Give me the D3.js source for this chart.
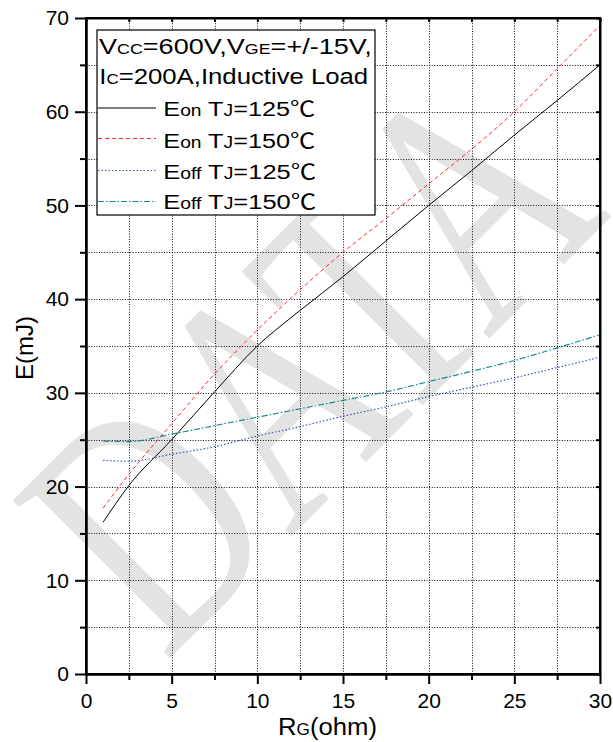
<!DOCTYPE html>
<html>
<head>
<meta charset="utf-8">
<script src="https://cdn.jsdelivr.net/npm/d3@7"></script>
<style>
  html, body { margin: 0; padding: 0; background: #fff; }
  svg { display: block; }
  text { font-family: Arial, "Liberation Sans", "DejaVu Sans", sans-serif; }
</style>
</head>
<body>
<svg id="chart" width="613" height="742"></svg>
<script>
// ---- data ----
const rg = [1, 2.5, 5, 7.5, 10, 12.5, 15, 17.5, 20, 22.5, 25, 27.5, 30];
const eon125 = [16.2, 20.1, 25.0, 30.1, 35.0, 38.8, 42.4, 46.2, 50.0, 53.7, 57.5, 61.2, 65.0];
const eon150 = [17.7, 21.3, 26.7, 32.0, 36.7, 41.0, 45.0, 48.6, 52.3, 56.0, 60.0, 64.6, 69.2];
const eoff125 = [22.8, 22.7, 23.45, 24.25, 25.4, 26.4, 27.5, 28.5, 29.6, 30.6, 31.6, 32.7, 33.8];
const eoff150 = [24.85, 24.8, 25.6, 26.5, 27.4, 28.3, 29.2, 30.1, 31.2, 32.3, 33.45, 34.8, 36.2];
const xMajor = [0, 5, 10, 15, 20, 25, 30];
const xMinor = [2.5, 7.5, 12.5, 17.5, 22.5, 27.5];
const yMajor = [0, 10, 20, 30, 40, 50, 60, 70];
const yMinor = [5, 15, 25, 35, 45, 55, 65];
const seriesNames = ["Eon TJ=125℃", "Eon TJ=150℃", "Eoff TJ=125℃", "Eoff TJ=150℃"];

const svg = d3.select("#chart");
svg.append("rect").attr("width", 613).attr("height", 742).attr("fill", "#fff");

const x = d3.scaleLinear().domain([0, 30]).range([86, 600]);
const y = d3.scaleLinear().domain([0, 70]).range([674, 18]);

// ---- watermark ----
svg.append("defs").append("clipPath").attr("id", "page")
  .append("rect").attr("width", 613).attr("height", 742);
svg.append("g").attr("clip-path", "url(#page)").append("text")
  .attr("transform", "translate(165,663) rotate(-45) scale(0.72,1)")
  .style("font-family", "'Liberation Serif', 'Times New Roman', serif")
  .attr("font-size", 340)
  .attr("fill", "#e3e3e3")
  .text("DATA");

// ---- grid ----
const grid = svg.append("g").attr("stroke", "#111").attr("stroke-width", 1).attr("stroke-dasharray", "1,1.6");
grid.selectAll("line.gx").data(xMajor.concat(xMinor).filter(d => d > 0 && d < 30)).enter().append("line")
  .attr("x1", d => Math.round(x(d)) + 0.5).attr("x2", d => Math.round(x(d)) + 0.5)
  .attr("y1", y(70)).attr("y2", y(0));
grid.selectAll("line.gy").data(yMajor.concat(yMinor).filter(d => d > 0 && d < 70)).enter().append("line")
  .attr("y1", d => Math.round(y(d)) + 0.5).attr("y2", d => Math.round(y(d)) + 0.5)
  .attr("x1", x(0)).attr("x2", x(30));

// ---- curves ----
const styles = [
  { data: eon125, color: "#000000", dash: null, w: 1 },
  { data: eon150, color: "#ff2a2a", dash: "4,3", w: 1 },
  { data: eoff125, color: "#3a55bb", dash: "1.5,2", w: 1.2 },
  { data: eoff150, color: "#1a8c8c", dash: "6,2,1.5,2", w: 1.2 }
];
const line = d3.line().x((d, i) => x(rg[i])).y(d => y(d)).curve(d3.curveMonotoneX);
styles.forEach(s => {
  svg.append("path").datum(s.data).attr("d", line)
    .attr("fill", "none").attr("stroke", s.color).attr("stroke-width", s.w)
    .attr("stroke-dasharray", s.dash);
});

// ---- axes ----
const fontSize = 21;
const axL = svg.append("g").attr("transform", `translate(${x(0)},0)`)
  .call(d3.axisLeft(y).tickValues(yMajor).tickSize(11).tickSizeOuter(0).tickPadding(6));
const axLm = svg.append("g").attr("transform", `translate(${x(0)},0)`)
  .call(d3.axisLeft(y).tickValues(yMinor).tickSize(6).tickSizeOuter(0).tickFormat(""));
const axB = svg.append("g").attr("transform", `translate(0,${y(0)})`)
  .call(d3.axisBottom(x).tickValues(xMajor).tickSize(10).tickSizeOuter(0).tickPadding(9));
const axBm = svg.append("g").attr("transform", `translate(0,${y(0)})`)
  .call(d3.axisBottom(x).tickValues(xMinor).tickSize(6).tickSizeOuter(0).tickFormat(""));
// inner ticks on top and right
const axT = svg.append("g").attr("transform", `translate(0,${y(70)})`)
  .call(d3.axisBottom(x).tickValues(xMajor.concat(xMinor)).tickSize(4).tickSizeOuter(0).tickFormat(""));
const axR = svg.append("g").attr("transform", `translate(${x(30)},0)`)
  .call(d3.axisLeft(y).tickValues(yMajor.concat(yMinor)).tickSize(4).tickSizeOuter(0).tickFormat(""));

[axL, axLm, axB, axBm, axT, axR].forEach(g => {
  g.selectAll("path.domain").attr("stroke", "#000").attr("stroke-width", 2);
  g.selectAll(".tick line").attr("stroke", "#000").attr("stroke-width", 2);
  g.selectAll(".tick text").attr("font-size", fontSize).attr("fill", "#000")
    .style("font-family", "Arial, 'Liberation Sans', sans-serif");
});
// frame
svg.append("rect").attr("x", x(0)).attr("y", y(70)).attr("width", x(30) - x(0)).attr("height", y(0) - y(70))
  .attr("fill", "none").attr("stroke", "#000").attr("stroke-width", 2);

// ---- axis titles ----
function fitText(sel, x0, base, target) {
  const w = sel.node().getBBox().width;
  sel.attr("transform", `translate(${x0},${base}) scale(${target / w},1)`);
}
svg.append("text").attr("transform", "translate(33,348) rotate(-90)")
  .attr("text-anchor", "middle").attr("font-size", 24).attr("fill", "#000").text("E(mJ)");

const xt = svg.append("text").attr("font-size", 24).attr("fill", "#000");
xt.append("tspan").text("R");
xt.append("tspan").attr("font-size", 16).text("G");
xt.append("tspan").text("(ohm)");
fitText(xt, 278, 735, 99);

// ---- legend ----
const lg = svg.append("g");
lg.append("rect").attr("x", 97).attr("y", 30).attr("width", 278).attr("height", 185)
  .attr("fill", "#fff").attr("stroke", "#000").attr("stroke-width", 1.2);

function richText(parts, big, small) {
  const t = lg.append("text").attr("fill", "#000").attr("font-size", big);
  parts.forEach(p => {
    const ts = t.append("tspan").text(p[0]);
    if (p[1] === 1) ts.attr("font-size", small);
    if (p[1] === 2) ts.style("font-family", "'Noto Sans CJK SC', sans-serif");
  });
  return t;
}
const l1 = richText([["V"], ["CC", 1], ["=600V,V"], ["GE", 1], ["=+/-15V,"]], 22, 14.5);
fitText(l1, 99, 53.5, 273);
const l2 = richText([["I"], ["C", 1], ["=200A,Inductive Load"]], 22, 14.5);
fitText(l2, 99.3, 83.5, 269);

const entryParts = [
  [["E"], ["on", 1], [" T"], ["J", 1], ["=125"], ["℃", 2]],
  [["E"], ["on", 1], [" T"], ["J", 1], ["=150"], ["℃", 2]],
  [["E"], ["off", 1], [" T"], ["J", 1], ["=125"], ["℃", 2]],
  [["E"], ["off", 1], [" T"], ["J", 1], ["=150"], ["℃", 2]]
];
const baselines = [115.7, 148, 178.5, 209];
const sampleY = [108, 138.5, 170.5, 201.5];
const widths = [152, 152, 153, 153];
entryParts.forEach((parts, i) => {
  const s = styles[i];
  lg.append("line").attr("x1", 98).attr("x2", 156).attr("y1", sampleY[i]).attr("y2", sampleY[i])
    .attr("stroke", s.color).attr("stroke-width", s.w).attr("stroke-dasharray", s.dash);
  const t = richText(parts, 21, 16);
  t.attr("aria-label", seriesNames[i]);
  fitText(t, 163.3, baselines[i], widths[i]);
});
</script>
</body>
</html>
